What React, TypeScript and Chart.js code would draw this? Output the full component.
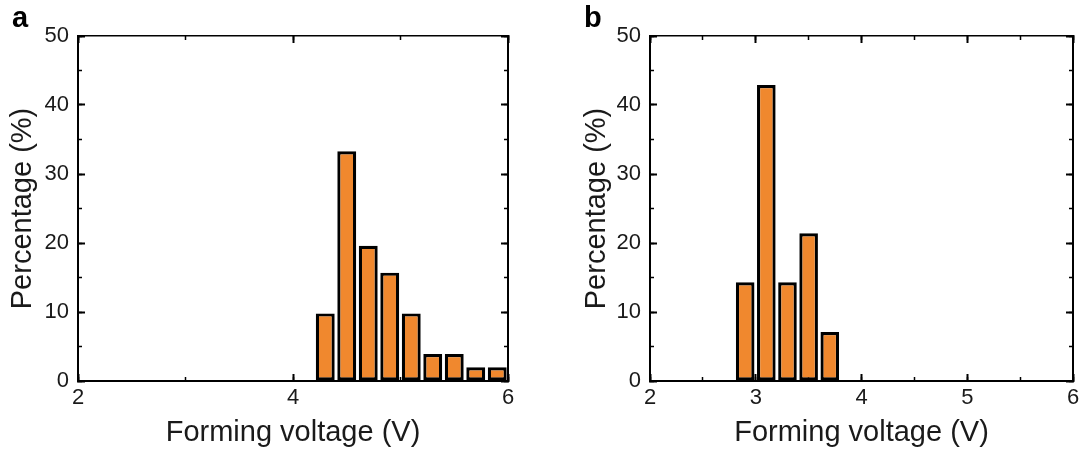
import React, { useEffect, useRef } from "react";
import { Chart, registerables } from "chart.js";

Chart.register(...registerables);

// ---- data ----
const voltageA = [4.3, 4.5, 4.7, 4.9, 5.1, 5.3, 5.5, 5.7, 5.9];
const percentA = [9.8, 33.3, 19.6, 15.7, 9.8, 3.9, 3.9, 2.0, 2.0];
const voltageB = [2.9, 3.1, 3.3, 3.5, 3.7];
const percentB = [14.3, 42.9, 14.3, 21.4, 7.1];

const xRange = [2, 6];
const yRange = [0, 50];
const xStepA = [2, 1]; // major, minor
const xStepB = [1, 0.5];
const yStep = [10, 5];

const xTitle = "Forming voltage (V)";
const yTitle = "Percentage (%)";
const panelLabels = ["a", "b"];

const FONT = "'Liberation Sans', Arial, Helvetica, sans-serif";
const BAR_FILL = "#F0882E";
const TEXT = "#1a1a1a";

type PanelCfg = {
  xs: number[];
  ys: number[];
  xStep: number[];
  padLeft: number;
  padRight: number;
  yTitlePad: number;
};

function buildScales(cfg: PanelCfg) {
  const common = { drawOnChartArea: false, drawTicks: true, tickColor: "#000", offset: false };
  const hiddenTicks = { display: false, autoSkip: false };
  return {
    x: {
      type: "linear",
      axis: "x",
      position: "bottom",
      weight: 1,
      min: xRange[0],
      max: xRange[1],
      offset: false,
      ticks: {
        stepSize: cfg.xStep[0],
        autoSkip: false,
        maxRotation: 0,
        padding: 11,
        color: TEXT,
        font: { family: FONT, size: 22 },
        callback: (v: number) => String(v),
      },
      grid: { ...common, tickLength: -7, tickWidth: 2 },
      border: { display: true, color: "#000", width: 2 },
      title: {
        display: true,
        text: xTitle,
        color: TEXT,
        font: { family: FONT, size: 29 },
        padding: { top: 0, bottom: 3 },
      },
      afterFit: (s: any) => {
        s.height = 72;
      },
    },
    xMinor: {
      type: "linear",
      axis: "x",
      position: "bottom",
      weight: 0,
      min: xRange[0],
      max: xRange[1],
      offset: false,
      ticks: { ...hiddenTicks, stepSize: cfg.xStep[1] },
      grid: { ...common, tickLength: -4, tickWidth: 1.5 },
      border: { display: false },
      afterFit: (s: any) => {
        s.height = 0;
      },
    },
    xTop: {
      type: "linear",
      axis: "x",
      position: "top",
      weight: 1,
      min: xRange[0],
      max: xRange[1],
      offset: false,
      ticks: { ...hiddenTicks, stepSize: cfg.xStep[0] },
      grid: { ...common, tickLength: -7, tickWidth: 2 },
      border: { display: true, color: "#000", width: 1.6 },
      afterFit: (s: any) => {
        s.height = 0;
      },
    },
    xTopMinor: {
      type: "linear",
      axis: "x",
      position: "top",
      weight: 0,
      min: xRange[0],
      max: xRange[1],
      offset: false,
      ticks: { ...hiddenTicks, stepSize: cfg.xStep[1] },
      grid: { ...common, tickLength: -4, tickWidth: 1.5 },
      border: { display: false },
      afterFit: (s: any) => {
        s.height = 0;
      },
    },
    y: {
      type: "linear",
      axis: "y",
      position: "left",
      weight: 1,
      min: yRange[0],
      max: yRange[1],
      ticks: {
        stepSize: yStep[0],
        autoSkip: false,
        padding: 16,
        color: TEXT,
        font: { family: FONT, size: 22 },
      },
      grid: { ...common, tickLength: -7, tickWidth: 2 },
      border: { display: true, color: "#000", width: 2 },
      title: {
        display: true,
        text: yTitle,
        color: TEXT,
        font: { family: FONT, size: 29 },
        padding: { top: cfg.yTitlePad, bottom: 0 },
      },
      afterFit: (s: any) => {
        s.width = 78;
      },
    },
    yMinor: {
      type: "linear",
      axis: "y",
      position: "left",
      weight: 0,
      min: yRange[0],
      max: yRange[1],
      ticks: { ...hiddenTicks, stepSize: yStep[1] },
      grid: { ...common, tickLength: -4, tickWidth: 1.5 },
      border: { display: false },
      afterFit: (s: any) => {
        s.width = 0;
      },
    },
    yRight: {
      type: "linear",
      axis: "y",
      position: "right",
      weight: 1,
      min: yRange[0],
      max: yRange[1],
      ticks: { ...hiddenTicks, stepSize: yStep[0] },
      grid: { ...common, tickLength: -7, tickWidth: 2 },
      border: { display: true, color: "#000", width: 2 },
      afterFit: (s: any) => {
        s.width = 0;
      },
    },
    yRightMinor: {
      type: "linear",
      axis: "y",
      position: "right",
      weight: 0,
      min: yRange[0],
      max: yRange[1],
      ticks: { ...hiddenTicks, stepSize: yStep[1] },
      grid: { ...common, tickLength: -4, tickWidth: 1.5 },
      border: { display: false },
      afterFit: (s: any) => {
        s.width = 0;
      },
    },
  };
}

function Panel(props: { cfg: PanelCfg; width: number; height: number }) {
  const ref = useRef<HTMLCanvasElement | null>(null);
  const { cfg, width, height } = props;
  useEffect(() => {
    if (!ref.current) return;
    const chart = new Chart(ref.current, {
      type: "bar",
      data: {
        datasets: [
          {
            data: cfg.xs.map((x, i) => ({ x, y: cfg.ys[i] })),
            xAxisID: "x",
            yAxisID: "y",
            backgroundColor: BAR_FILL,
            borderColor: "#000",
            borderWidth: 3.2,
            borderSkipped: false,
            barPercentage: 0.88,
            categoryPercentage: 1,
          } as any,
        ],
      },
      options: {
        responsive: false,
        animation: false,
        layout: {
          padding: { left: cfg.padLeft, right: cfg.padRight, top: 36, bottom: 0 },
        },
        plugins: {
          legend: { display: false },
          tooltip: { enabled: false },
        },
        scales: buildScales(cfg) as any,
      },
    });
    return () => chart.destroy();
  }, [cfg, width, height]);
  return <canvas ref={ref} width={width} height={height} style={{ display: "block" }} />;
}

const panelA: PanelCfg = {
  xs: voltageA,
  ys: percentA,
  xStep: xStepA,
  padLeft: 0,
  padRight: 32,
  yTitlePad: 6,
};
const panelB: PanelCfg = {
  xs: voltageB,
  ys: percentB,
  xStep: xStepB,
  padLeft: 32,
  padRight: 18,
  yTitlePad: 8,
};

const letterStyle: React.CSSProperties = {
  position: "absolute",
  fontFamily: FONT,
  fontWeight: "bold",
  fontSize: 29,
  lineHeight: "29px",
  color: "#000",
};

export default function App() {
  return (
    <div
      style={{
        position: "absolute",
        left: 0,
        top: 0,
        width: 1091,
        height: 453,
        background: "#fff",
        overflow: "hidden",
      }}
    >
      <div style={{ position: "absolute", left: 0, top: 0 }}>
        <Panel cfg={panelA} width={540} height={453} />
      </div>
      <div style={{ position: "absolute", left: 540, top: 0 }}>
        <Panel cfg={panelB} width={551} height={453} />
      </div>
      <div style={{ ...letterStyle, left: 12, top: 3 }}>{panelLabels[0]}</div>
      <div style={{ ...letterStyle, left: 584, top: 3 }}>{panelLabels[1]}</div>
    </div>
  );
}
